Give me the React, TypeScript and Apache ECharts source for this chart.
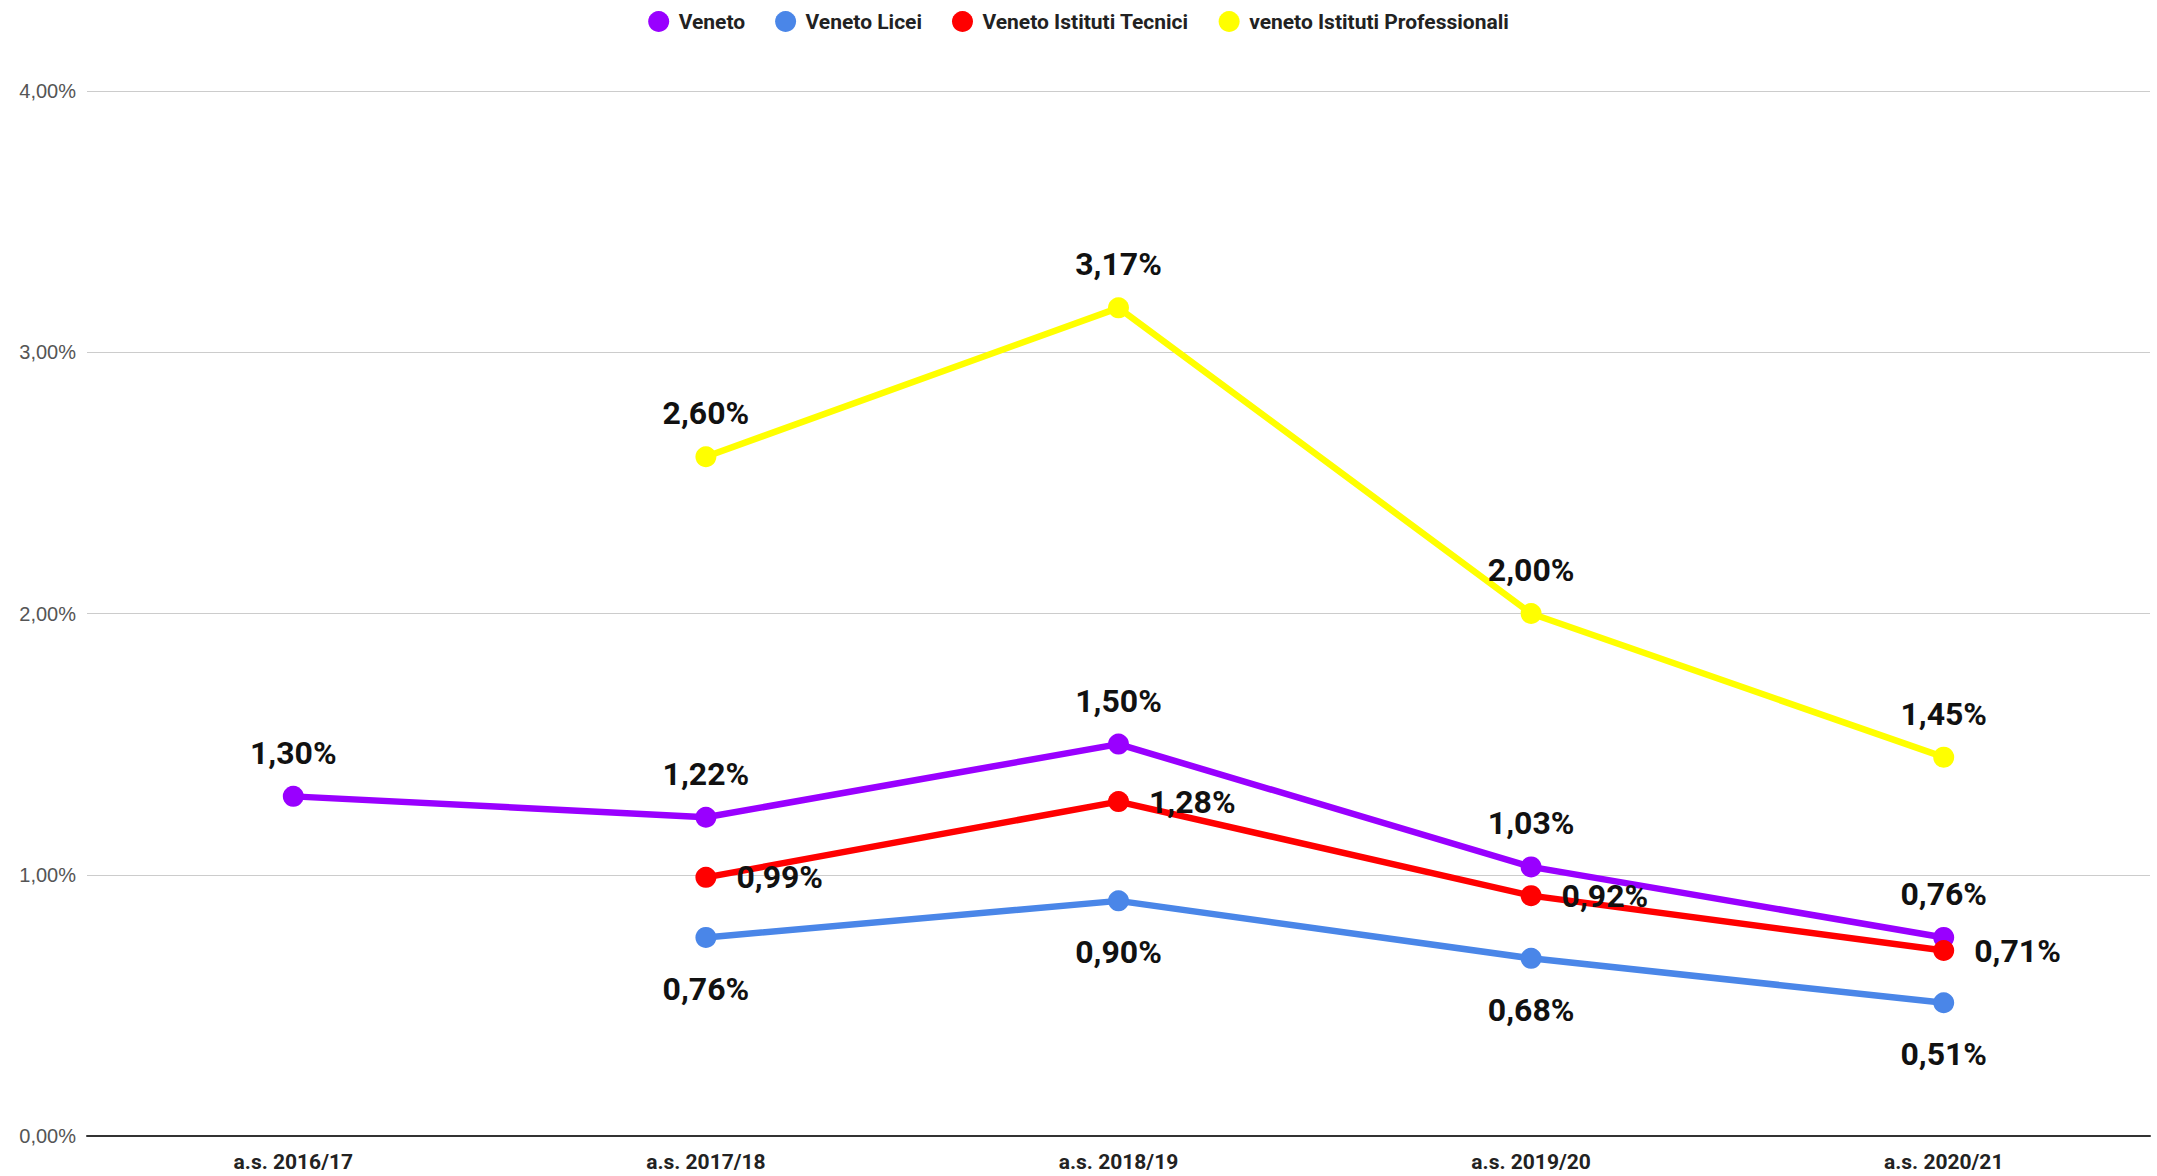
import React, { useEffect, useRef } from "react";
import * as echarts from "echarts";

const categories = ["a.s. 2016/17", "a.s. 2017/18", "a.s. 2018/19", "a.s. 2019/20", "a.s. 2020/21"];
const yTicks = [0, 1, 2, 3, 4];
const veneto = [1.3, 1.22, 1.5, 1.03, 0.76];
const venetoLicei = [null, 0.76, 0.9, 0.68, 0.51];
const venetoTecnici = [null, 0.99, 1.28, 0.92, 0.71];
const venetoProfessionali = [null, 2.6, 3.17, 2.0, 1.45];

const fmt = (v: number) => v.toFixed(2).replace(".", ",") + "%";

export default function App() {
  const ref = useRef<HTMLDivElement>(null);
  useEffect(() => {
    if (!ref.current) return;
    const chart = echarts.init(ref.current, null, { renderer: "svg" });
    const labelStyle = (position: string, distance: number) => ({
      show: true,
      position,
      distance,
      fontFamily: "Roboto",
      fontWeight: "bold",
      fontSize: 32,
      color: "#111",
      formatter: (p: any) => fmt(p.value),
    });
    const mk = (name: string, data: (number | null)[], color: string, pos: string, dist: number) => ({
      name,
      type: "line",
      data,
      symbol: "circle",
      symbolSize: 21,
      lineStyle: { color, width: 6.5 },
      itemStyle: { color },
      label: labelStyle(pos, dist),
      emphasis: { disabled: true },
    });
    chart.setOption({
      animation: false,
      backgroundColor: "#fff",
      legend: {
        top: 6,
        left: "center",
        itemWidth: 30,
        itemHeight: 21,
        itemGap: 30,
        icon: "circle",
        textStyle: { fontFamily: "Roboto", fontWeight: "bold", fontSize: 21, color: "#222" },
        data: ["Veneto", "Veneto Licei", "Veneto Istituti Tecnici", "veneto Istituti Professionali"],
      },
      grid: { left: 87, right: 7, top: 91, bottom: 40, containLabel: false },
      xAxis: {
        type: "category",
        data: categories,
        boundaryGap: true,
        axisTick: { show: false },
        axisLine: { show: true, lineStyle: { color: "#333", width: 2 } },
        axisLabel: { fontFamily: "Roboto", fontWeight: "bold", fontSize: 21, color: "#222", margin: 15 },
      },
      yAxis: {
        type: "value",
        min: yTicks[0],
        max: yTicks[yTicks.length - 1],
        interval: 1,
        axisLine: { show: false },
        axisTick: { show: false },
        splitLine: { lineStyle: { color: "#cccccc", width: 1 } },
        axisLabel: {
          fontFamily: "Liberation Sans",
          fontSize: 20,
          color: "#555",
          margin: 11,
          formatter: (v: number) => fmt(v),
        },
      },
      series: [
        mk("Veneto", veneto, "#9900ff", "top", 17),
        mk("Veneto Licei", venetoLicei, "#4a86e8", "bottom", 25),
        mk("Veneto Istituti Tecnici", venetoTecnici, "#ff0000", "right", 20),
        mk("veneto Istituti Professionali", venetoProfessionali, "#ffff00", "top", 17),
      ],
    });
    return () => chart.dispose();
  }, []);
  return (
    <div
      ref={ref}
      style={{ position: "fixed", left: 0, top: 0, width: "100vw", height: "100vh" }}
    />
  );
}
